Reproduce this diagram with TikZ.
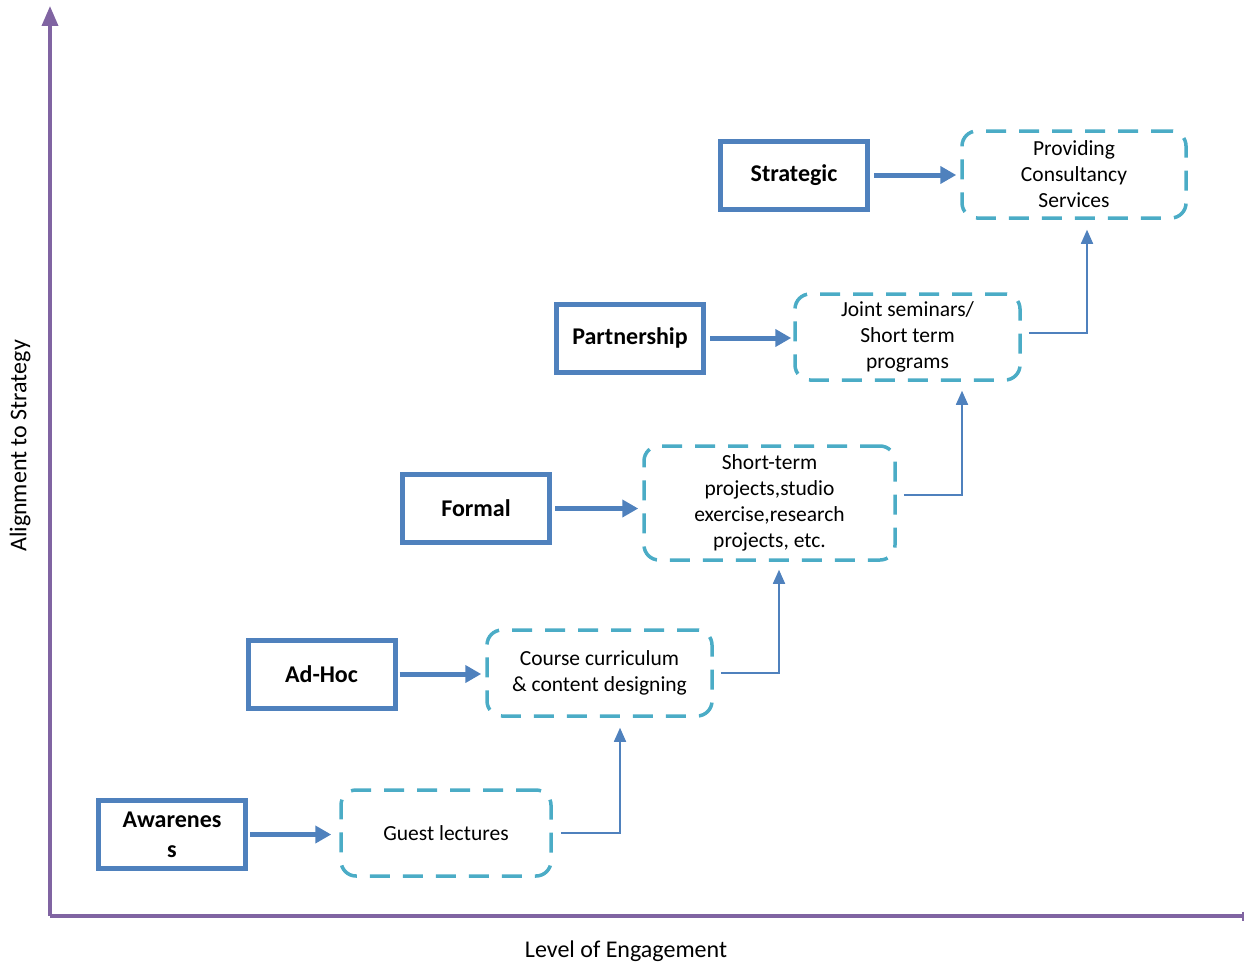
\documentclass[tikz,border=0pt]{standalone}
\usepackage{fontspec}
\setmainfont{Carlito}
\usetikzlibrary{arrows.meta}
\definecolor{axisc}{HTML}{8064A2}
\definecolor{boxc}{HTML}{4F81BD}
\definecolor{dashc}{HTML}{4BACC6}
\begin{document}
\begin{tikzpicture}[x=1pt,y=-1pt,
  levelbox/.style={draw=boxc,line width=5pt,minimum width=147pt,minimum height=68pt,align=center,font=\fontsize{24}{30}\selectfont\bfseries,inner sep=0pt},
  actbox/.style={draw=dashc,line width=3.5pt,dash pattern=on 20pt off 13pt,rounded corners=15pt,align=center,font=\fontsize{21.5}{26}\selectfont,inner sep=0pt},
  bigarrow/.style={draw=boxc,line width=5pt,-{Triangle[length=16pt,width=17pt]}},
  thinarrow/.style={draw=boxc,line width=1.6pt,-{Triangle[length=14pt,width=12pt]}},
  axis/.style={draw=axisc,line width=3.5pt}]
\useasboundingbox (0,0) rectangle (1246,966);
% axes
\coordinate (origin) at (50,916);
\coordinate (ytop) at (50,6);
\coordinate (xend) at (1244,916);
\draw[axis,-{Triangle[length=20pt,width=16pt]}] (origin) -- (ytop);
\draw[axis,-{Bar[width=9pt,line width=2.5pt]}] (origin) -- (xend);
\node[rotate=90,font=\fontsize{24}{28}\selectfont] (ylab) at (20,446) {Alignment to Strategy};
\node[font=\fontsize{24}{28}\selectfont] (xlab) at (626,951) {Level of Engagement};
% level boxes
\node[levelbox] (aw) at (172,834.5) {Awarenes\\s};
\node[levelbox] (ah) at (321.5,674) {Ad-Hoc};
\node[levelbox] (fo) at (476,508.5) {Formal};
\node[levelbox] (pa) at (630,338) {Partnership};
\node[levelbox] (st) at (794,175) {Strategic};
% activity boxes
\node[actbox,minimum width=210pt,minimum height=86pt] (gl) at (446,833) {Guest lectures};
\node[actbox,minimum width=225pt,minimum height=86pt] (cc) at (599.5,673) {Course curriculum\\\& content designing};
\node[actbox,minimum width=251pt,minimum height=114pt] (sp) at (769.5,503) {Short-term\\projects,studio\\exercise,research\\projects, etc.};
\node[actbox,minimum width=225pt,minimum height=86pt] (js) at (907.5,337) {Joint seminars/\\Short term\\programs};
\node[actbox,minimum width=224pt,minimum height=87pt] (pc) at (1074,174.5) {Providing\\Consultancy\\Services};
% level to activity arrows
\draw[bigarrow,shorten <=2pt,shorten >=8pt] (aw.east) -- (aw.east -| gl.west);
\draw[bigarrow,shorten <=2pt,shorten >=4pt] (ah.east) -- (ah.east -| cc.west);
\draw[bigarrow,shorten <=3pt,shorten >=4pt] (fo.east) -- (fo.east -| sp.west);
\draw[bigarrow,shorten <=4pt,shorten >=2pt] (pa.east) -- (pa.east -| js.west);
\draw[bigarrow,shorten <=4pt,shorten >=4pt] (st.east) -- (st.east -| pc.west);
% elbow arrows
\coordinate (e1) at (620,833);
\coordinate (e2) at (779,673);
\coordinate (e3) at (962,495);
\coordinate (e4) at (1087,333);
\draw[thinarrow,shorten <=8pt,shorten >=10pt] (gl.east) -- (e1) -- (e1 |- cc.south);
\draw[thinarrow,shorten <=7pt,shorten >=8pt] (cc.east) -- (e2) -- (e2 |- sp.south);
\draw[thinarrow,shorten <=7pt,shorten >=9pt] (sp.east |- e3) -- (e3) -- (e3 |- js.south);
\draw[thinarrow,shorten <=7pt,shorten >=10pt] (js.east |- e4) -- (e4) -- (e4 |- pc.south);
\end{tikzpicture}
\end{document}
